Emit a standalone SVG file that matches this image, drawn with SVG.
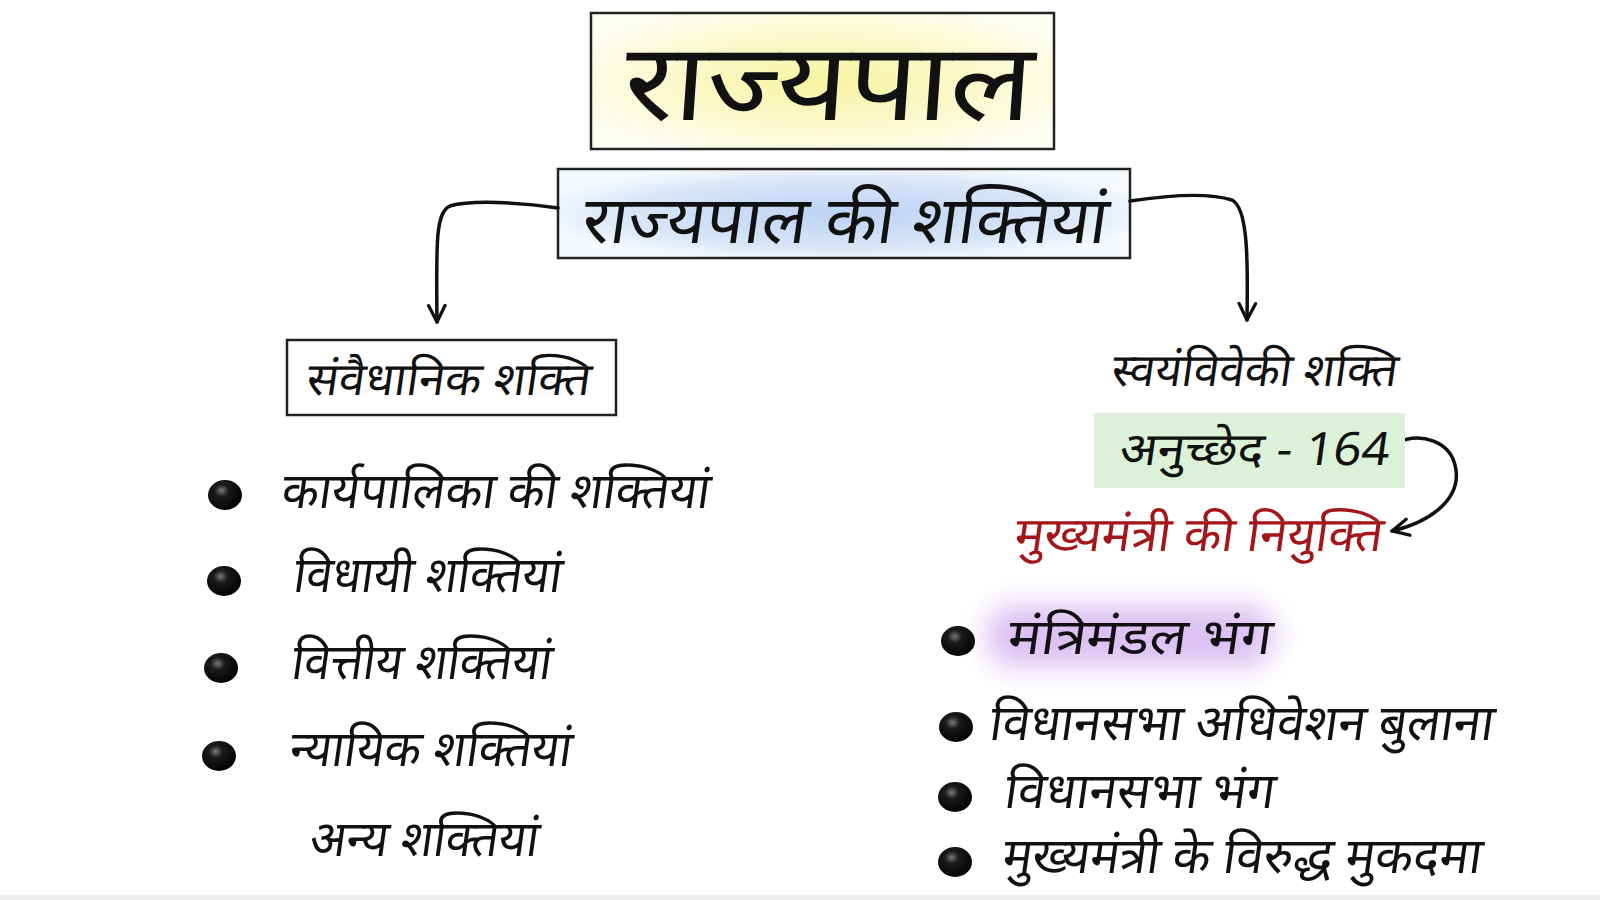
<svg xmlns="http://www.w3.org/2000/svg" width="1600" height="900" viewBox="0 0 1600 900">
<defs>
<radialGradient id="gYellow" cx="0.5" cy="0.5" r="0.6">
<stop offset="0" stop-color="#f7f4a0"/>
<stop offset="0.55" stop-color="#faf8cc"/>
<stop offset="1" stop-color="#fefef2"/>
</radialGradient>
<radialGradient id="gBlue" cx="0.5" cy="0.5" r="0.55">
<stop offset="0" stop-color="#bcd3f3"/>
<stop offset="0.7" stop-color="#d8e6f8"/>
<stop offset="1" stop-color="#f6f9fd"/>
</radialGradient>
<radialGradient id="gBullet" cx="0.4" cy="0.35" r="0.7">
<stop offset="0" stop-color="#777"/>
<stop offset="0.3" stop-color="#1a1a1a"/>
<stop offset="1" stop-color="#000"/>
</radialGradient>
<filter id="blur" x="-30%" y="-60%" width="160%" height="220%">
<feGaussianBlur stdDeviation="14"/>
</filter>
<marker id="arrowV" viewBox="0 0 20 20" refX="18" refY="10" markerWidth="22" markerHeight="22" markerUnits="userSpaceOnUse" orient="auto">
<path d="M3 2.5 L18 10 L3 17.5" fill="none" stroke="#111" stroke-width="3" stroke-linecap="round" stroke-linejoin="round"/>
</marker>
<style>
.t{font-family:"Noto Sans","Noto Sans CJK SC",sans-serif;fill:#111}
.box{fill:none;stroke:#222;stroke-width:2.5}
.con{fill:none;stroke:#111;stroke-width:3.5;stroke-linecap:round}
.bul{fill:url(#gBullet)}
</style>
</defs>
<rect width="1600" height="900" fill="#ffffff"/>
<rect x="0" y="895" width="1600" height="5" fill="#eeeeee"/>

<g id="title">
<rect x="591" y="13" width="463" height="136" fill="url(#gYellow)"/>
<rect class="box" x="591" y="13" width="463" height="136"/>
<g transform="translate(622,120) skewX(-4)"><text class="t" font-size="108" textLength="409" lengthAdjust="spacingAndGlyphs">राज्यपाल</text></g>
</g>

<g id="subtitle">
<rect x="558" y="169" width="572" height="89" fill="url(#gBlue)"/>
<rect class="box" x="558" y="169" width="572" height="89"/>
<g transform="translate(580,243) skewX(-8)"><text class="t" font-size="66" textLength="525" lengthAdjust="spacingAndGlyphs">राज्यपाल की शक्तियां</text></g>
</g>

<g id="connectors">
<path class="con" d="M558 208 C520 202 470 200 450 206 C436 212 436 240 437 322" marker-end="url(#arrowV)"/>
<path class="con" d="M1130 201 C1170 195 1210 193 1232 200 C1248 208 1248 260 1247 320" marker-end="url(#arrowV)"/>
<path class="con" d="M1396 443 C1420 432 1452 440 1456 470 C1460 500 1430 522 1392 531" marker-end="url(#arrowV)"/>
</g>

<g id="constitutional">
<rect class="box" x="287" y="340" width="329" height="75" fill="#fff"/>
<g transform="translate(305,395) skewX(-8)"><text class="t" font-size="46" textLength="284" lengthAdjust="spacingAndGlyphs">संवैधानिक शक्ति</text></g>
</g>

<g id="left-items">
<ellipse class="bul" cx="225" cy="495" rx="17" ry="15"/>
<g transform="translate(280,508) skewX(-8)"><text class="t" font-size="50" textLength="428" lengthAdjust="spacingAndGlyphs">कार्यपालिका की शक्तियां</text></g>
<ellipse class="bul" cx="224" cy="581" rx="17" ry="15"/>
<g transform="translate(292,592) skewX(-8)"><text class="t" font-size="50" textLength="268" lengthAdjust="spacingAndGlyphs">विधायी शक्तियां</text></g>
<ellipse class="bul" cx="221" cy="668" rx="17" ry="15"/>
<g transform="translate(290,679) skewX(-8)"><text class="t" font-size="50" textLength="260" lengthAdjust="spacingAndGlyphs">वित्तीय शक्तियां</text></g>
<ellipse class="bul" cx="219" cy="756" rx="17" ry="15"/>
<g transform="translate(288,766) skewX(-8)"><text class="t" font-size="50" textLength="282" lengthAdjust="spacingAndGlyphs">न्यायिक शक्तियां</text></g>
<g transform="translate(308,856) skewX(-8)"><text class="t" font-size="50" textLength="229" lengthAdjust="spacingAndGlyphs">अन्य शक्तियां</text></g>
</g>

<g id="discretionary">
<g transform="translate(1110,386) skewX(-8)"><text class="t" font-size="46" textLength="286" lengthAdjust="spacingAndGlyphs">स्वयंविवेकी शक्ति</text></g>
</g>

<g id="article">
<rect x="1094" y="413" width="311" height="75" fill="#dcf2d8"/>
<g transform="translate(1118,465) skewX(-8)"><text class="t" font-size="46" textLength="270" lengthAdjust="spacingAndGlyphs">अनुच्छेद - 164</text></g>
</g>

<g id="cm-appointment">
<g transform="translate(1013,551) skewX(-8)"><text class="t" font-size="48" textLength="368" lengthAdjust="spacingAndGlyphs" style="fill:#a3161a">मुख्यमंत्री की नियुक्ति</text></g>
</g>

<g id="right-items">
<rect x="985" y="605" width="290" height="62" rx="30" fill="#dcc0f2" filter="url(#blur)"/>
<ellipse class="bul" cx="958" cy="641" rx="17" ry="15"/>
<g transform="translate(1006,654) skewX(-8)"><text class="t" font-size="50" textLength="264" lengthAdjust="spacingAndGlyphs">मंत्रिमंडल भंग</text></g>
<ellipse class="bul" cx="956" cy="727" rx="17" ry="15"/>
<g transform="translate(988,740) skewX(-8)"><text class="t" font-size="50" textLength="504" lengthAdjust="spacingAndGlyphs">विधानसभा अधिवेशन बुलाना</text></g>
<ellipse class="bul" cx="955" cy="797" rx="17" ry="15"/>
<g transform="translate(1003,808) skewX(-8)"><text class="t" font-size="50" textLength="270" lengthAdjust="spacingAndGlyphs">विधानसभा भंग</text></g>
<ellipse class="bul" cx="955" cy="862" rx="17" ry="15"/>
<g transform="translate(1001,873) skewX(-8)"><text class="t" font-size="50" textLength="479" lengthAdjust="spacingAndGlyphs">मुख्यमंत्री के विरुद्ध मुकदमा</text></g>
</g>
</svg>
